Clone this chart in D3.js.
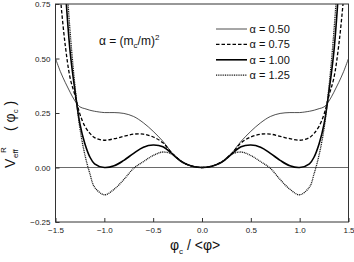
<!DOCTYPE html>
<html>
<head>
<meta charset="utf-8">
<script src="https://cdn.jsdelivr.net/npm/d3@7"></script>
<style>
html,body{margin:0;padding:0;background:#fff;}
svg{display:block;font-family:Arial,"Liberation Sans",sans-serif;}
</style>
</head>
<body>
<svg id="chart" width="354" height="262"></svg>
<script>
// phi_c / <phi> sample positions (denser where the curves get steep)
const phi=[-1.5,-1.45,-1.4,-1.35,-1.3,-1.25,-1.2,-1.15,-1.1,-1.0,-0.9,-0.8,-0.7,-0.6,-0.5,-0.4,-0.3,-0.2,-0.1,
  0,0.1,0.2,0.3,0.4,0.5,0.6,0.7,0.8,0.9,1.0,1.1,1.15,1.2,1.25,1.3,1.35,1.4,1.45,1.5];
// V_eff^R
const v050=[0.5,0.44,0.39,0.345,0.305,0.278,0.27,0.263,0.258,0.252,0.252,0.248,0.234,0.205,0.166,0.12,0.064,0.025,0.006,
  0,0.006,0.025,0.064,0.12,0.166,0.205,0.234,0.248,0.252,0.252,0.258,0.263,0.27,0.278,0.305,0.345,0.39,0.44,0.5];
const v075=[1.05,0.78,0.56,0.41,0.33,0.245,0.19,0.158,0.137,0.125,0.132,0.143,0.153,0.153,0.14,0.113,0.062,0.025,0.006,
  0,0.006,0.025,0.062,0.113,0.14,0.153,0.153,0.143,0.132,0.125,0.137,0.158,0.19,0.245,0.33,0.41,0.56,0.78,1.05];
const v100=[1.6,1.15,0.82,0.53,0.35,0.2,0.11,0.05,0.017,0,0.008,0.033,0.065,0.093,0.103,0.095,0.06,0.024,0.006,
  0,0.006,0.024,0.06,0.095,0.103,0.093,0.065,0.033,0.008,0,0.017,0.05,0.11,0.2,0.35,0.53,0.82,1.15,1.6];
const v125=[1.8,1.35,0.95,0.62,0.37,0.18,0.06,-0.025,-0.09,-0.125,-0.1,-0.055,-0.004,0.027,0.055,0.071,0.06,0.024,0.006,
  0,0.006,0.024,0.06,0.071,0.055,0.027,-0.004,-0.055,-0.1,-0.125,-0.09,-0.025,0.06,0.18,0.37,0.62,0.95,1.35,1.8];
const legendLabels=['\u03b1 = 0.50','\u03b1 = 0.75','\u03b1 = 1.00','\u03b1 = 1.25'];
const xTicks=[-1.5,-1.0,-0.5,0.0,0.5,1.0,1.5];
const yTicks=[-0.25,0.00,0.25,0.50,0.75];

const styles=[
  {w:0.8,dash:null,col:'#222'},
  {w:1.3,dash:'3.5,2',col:'#000'},
  {w:1.6,dash:null,col:'#000'},
  {w:1.3,dash:'1,0.8',col:'#111'}
];
const series=[v050,v075,v100,v125];

const L=55.5,R=348.5,T=4,B=222;
const svg=d3.select('#chart');
const x=d3.scaleLinear().domain([-1.5,1.5]).range([L,R]);
const y=d3.scaleLinear().domain([-0.25,0.75]).range([B,T]);

svg.append('clipPath').attr('id','plotclip').append('rect')
  .attr('x',L).attr('y',T).attr('width',R-L).attr('height',B-T);

// zero line
svg.append('line').attr('x1',L).attr('x2',R).attr('y1',y(0)).attr('y2',y(0))
  .attr('stroke','#444').attr('stroke-width',0.8);

const line=d3.line().x((d,i)=>x(phi[i])).y(d=>y(d)).curve(d3.curveCatmullRom.alpha(0.5));
const gl=svg.append('g').attr('clip-path','url(#plotclip)');
series.forEach((s,i)=>{
  gl.append('path').datum(s).attr('d',line).attr('fill','none')
    .attr('stroke',styles[i].col).attr('stroke-width',styles[i].w)
    .attr('stroke-dasharray',styles[i].dash);
});

// frame
svg.append('rect').attr('x',L).attr('y',T).attr('width',R-L).attr('height',B-T)
  .attr('fill','none').attr('stroke','#333').attr('stroke-width',1);

// axes with inward ticks
const xa=svg.append('g').attr('transform',`translate(0,${B})`)
  .call(d3.axisBottom(x).tickValues(xTicks).tickFormat(d3.format('.1f')).tickSizeInner(-4).tickSizeOuter(0).tickPadding(5));
const ya=svg.append('g').attr('transform',`translate(${L},0)`)
  .call(d3.axisLeft(y).tickValues(yTicks).tickFormat(d3.format('.2f')).tickSizeInner(-4).tickSizeOuter(0).tickPadding(5));
[xa,ya].forEach(a=>{
  a.select('.domain').remove();
  a.selectAll('line').attr('stroke','#333');
  a.selectAll('text').attr('font-size',8).attr('fill','#222').attr('font-family','Arial,"Liberation Sans",sans-serif');
});

// legend
const lg=svg.append('g');
legendLabels.forEach((t,i)=>{
  const yy=29+i*15.4;
  lg.append('line').attr('x1',216).attr('x2',247).attr('y1',yy).attr('y2',yy)
    .attr('stroke',styles[i].col).attr('stroke-width',styles[i].w).attr('stroke-dasharray',styles[i].dash);
  lg.append('text').attr('x',249.5).attr('y',yy+4).attr('font-size',11).attr('fill','#111').text(t);
});

// annotation alpha = (m_c/m)^2
const an=svg.append('text').attr('x',99).attr('y',45).attr('font-size',12).attr('fill','#111');
an.append('tspan').text('\u03b1 = (m');
an.append('tspan').attr('font-size',8).attr('dy',3).text('c');
an.append('tspan').attr('dy',-3).text('/m)');
an.append('tspan').attr('font-size',8).attr('dy',-5).text('2');

// x label
const xl=svg.append('text').attr('x',170).attr('y',250).attr('font-size',14).attr('fill','#111');
xl.append('tspan').text('\u03c6');
xl.append('tspan').attr('font-size',8).attr('dy',4).text('c');
xl.append('tspan').attr('dy',-4).text(' / <\u03c6>');

// y label
const yg=svg.append('g').attr('transform','translate(15,123) rotate(-90)');
yg.append('text').attr('x',-45).attr('y',0).attr('font-size',14).attr('fill','#111').text('V');
yg.append('text').attr('x',-35).attr('y',3).attr('font-size',8).attr('fill','#111').text('eff');
yg.append('text').attr('x',-30).attr('y',-9).attr('font-size',8).attr('fill','#111').text('R');
const yt=yg.append('text').attr('x',-8).attr('y',0).attr('font-size',14).attr('fill','#111');
yt.append('tspan').text('( \u03c6');
yt.append('tspan').attr('font-size',8).attr('dy',3).text('c');
yt.append('tspan').attr('dy',-3).text(' )');
</script>
</body>
</html>
